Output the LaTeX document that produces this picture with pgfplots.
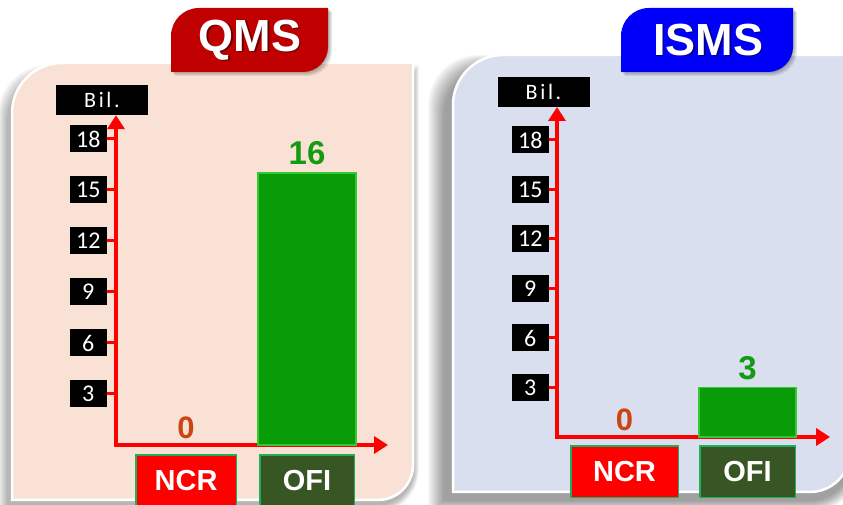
\documentclass[border=0pt]{standalone}
\usepackage{pgfplots}
\pgfplotsset{compat=1.18}
\usetikzlibrary{arrows.meta}
\usepackage{fontspec}
\setmainfont{Carlito}
\newfontfamily\arialf{Liberation Sans}
\newfontfamily\bilfont{Carlito}[LetterSpace=12]
\definecolor{peach}{HTML}{F9E2D5}
\definecolor{bluepanel}{HTML}{D9DFEE}
\definecolor{qmsred}{HTML}{C00000}
\definecolor{ismsblue}{HTML}{0000FA}
\definecolor{ncrred}{HTML}{FF0000}
\definecolor{ofigreen}{HTML}{375623}
\definecolor{boxgreen}{HTML}{1FAF5A}
\definecolor{bargreen}{HTML}{089C08}
\definecolor{barborder}{HTML}{35C835}
\definecolor{numgreen}{HTML}{139B13}
\definecolor{zerocol}{HTML}{CC4411}
\newcommand\catbox[3]{{\setlength\fboxsep{0pt}\setlength\fboxrule{1.5pt}\fcolorbox{boxgreen}{#1}{\makebox[#2]{\rule[-15pt]{0pt}{50pt}\arialf\bfseries\fontsize{29}{29}\selectfont #3}}}}
\newcommand\panelshape[7]{\fill[#1] (#2,#3) -- (#2,{#5-(#6)}) arc[start angle=180,end angle=90,radius={(#6)*1pt}] -- (#4,#5) -- (#4,{#3+(#7)}) arc[start angle=0,end angle=-90,radius={(#7)*1pt}] -- cycle;}
\pgfplotsset{panel/.style={
  axis lines=left,
  axis line style={ncrred, line width=4.5pt, line cap=rect, -{Triangle[length=14pt,width=17pt]}},
  tick align=outside,
  major tick length=9pt,
  ytick style={ncrred, line width=3pt},
  xtick style={draw=none},
  ytick={3,6,9,12,15,18},
  xtick={0,1},
  ymin=0,
  clip=false,
  /pgf/number format/assume math mode=true,
  yticklabel style={fill=black, text=white, font=\fontsize{24}{24}\selectfont, minimum width=37pt, minimum height=27pt, inner sep=0pt},
  xticklabel style={text=white, inner sep=0pt},
  every axis y label/.style={at={(axis description cs:0,1)}, anchor=south, fill=black, text=white, minimum width=92pt, minimum height=30pt, inner sep=0pt, font=\bilfont\fontsize{22}{22}\selectfont},
  ylabel={Bil.},
  zerostyle/.style={ybar, bar shift=0pt, draw=none, fill=none, nodes near coords, nodes near coords style={text=zerocol, yshift=3pt, font=\arialf\bfseries\fontsize{31}{31}\selectfont}},
  barstyle/.style={ybar, bar shift=0pt, fill=bargreen, draw=barborder, line width=1.2pt, nodes near coords, nodes near coords style={text=numgreen, yshift=4pt, font=\arialf\bfseries\fontsize{33}{33}\selectfont}},
}}
\begin{document}
\begin{tikzpicture}[x=1pt,y=1pt]
\useasboundingbox (0,0) rectangle (843,505);
\clip (0,0) rectangle (843,505);
\fill[white] (0,0) rectangle (843,505);
% shadows of panels
\foreach \e in {1,...,10}{\panelshape{black,opacity=0.032}{12-4-\e}{5-4-\e}{413+0.6*\e}{430+\e}{50}{35+\e}}
\foreach \e in {1,...,12}{\panelshape{black,opacity=0.035}{453-8-1.4*\e}{13-8-\e}{850+\e}{438+\e}{50}{40+\e}}
% panels
\panelshape{fill=peach,draw=white,line width=2.5pt}{12}{5}{413}{442}{50}{35}
\panelshape{fill=bluepanel,draw=white,line width=2.5pt}{453}{13}{850}{450}{50}{40}
% tabs
\foreach \e in {1,...,4}{\panelshape{black,opacity=0.08}{171+\e}{433-\e}{328+\e}{497-\e}{28}{25}}
\panelshape{qmsred}{171}{433}{328}{497}{28}{25}
\foreach \e in {1,...,4}{\panelshape{black,opacity=0.08}{621+\e}{433-\e}{793+\e}{497-\e}{28}{25}}
\panelshape{ismsblue}{621}{433}{793}{497}{28}{25}
\node[text=black,opacity=0.45,font=\arialf\bfseries\fontsize{45}{45}\selectfont] at (251.5,463.5) {QMS};
\node[text=white,font=\arialf\bfseries\fontsize{45}{45}\selectfont] at (250,465) {QMS};
\node[text=black,opacity=0.45,font=\arialf\bfseries\fontsize{45}{45}\selectfont] at (709.5,463.5) {ISMS};
\node[text=white,font=\arialf\bfseries\fontsize{45}{45}\selectfont] at (708,465) {ISMS};
% QMS chart
\begin{axis}[panel, at={(116pt,60pt)}, anchor=south west, x=121pt, y=17pt,
  xmin=-0.579, xmax=1.669, ymax=19.4,
  ylabel style={xshift=-14pt},
  xticklabels={{\catbox{ncrred}{99pt}{NCR}},{\catbox{ofigreen}{93pt}{OFI}}}]
\addplot[zerostyle] coordinates {(0,0)};
\addplot[barstyle, bar width=98pt] coordinates {(1,16)};
\end{axis}
% ISMS chart
\begin{axis}[panel, at={(557pt,68pt)}, anchor=south west, x=123pt, y=16.5pt,
  xmin=-0.549, xmax=1.671, ymax=20,
  major tick length=8pt,
  ylabel style={xshift=-13.5pt},
  xticklabels={{\catbox{ncrred}{106pt}{NCR}},{\catbox{ofigreen}{94pt}{OFI}}}]
\addplot[zerostyle] coordinates {(0,0)};
\addplot[barstyle, bar width=97pt] coordinates {(1,3)};
\end{axis}
\end{tikzpicture}
\end{document}
